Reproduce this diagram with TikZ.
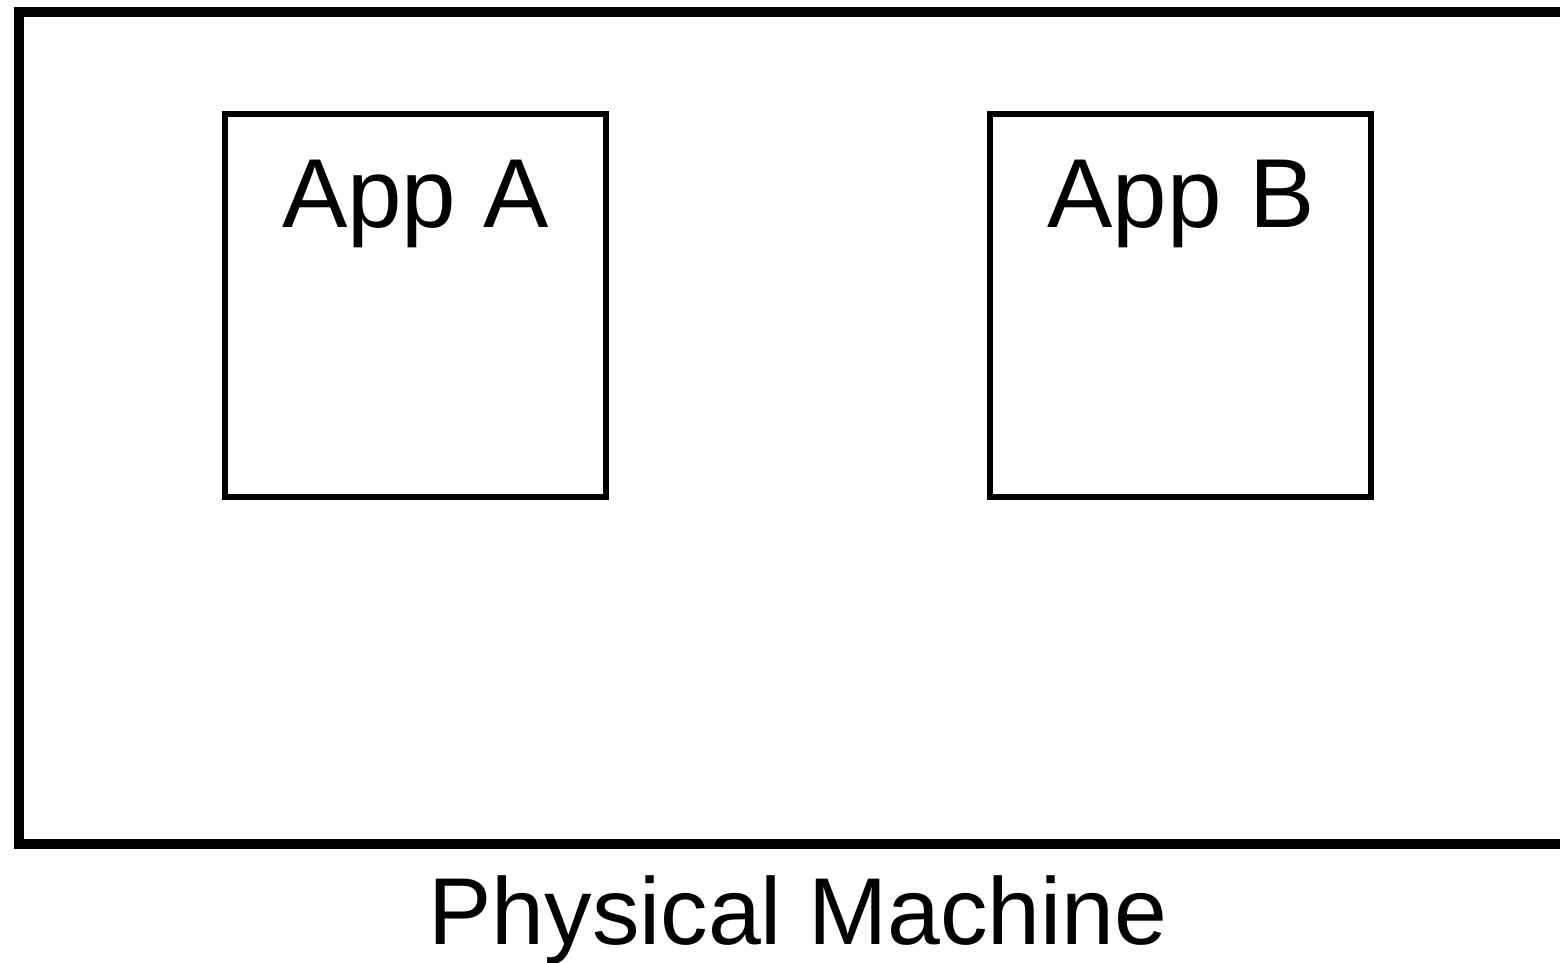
\documentclass[tikz,border=0pt]{standalone}
\usepackage{fontspec}
\setmainfont{Liberation Sans}
\begin{document}
\begin{tikzpicture}[x=1pt,y=-1pt,
  machine/.style={draw, line width=10pt, minimum width=1561pt, minimum height=832pt,
    inner sep=0pt, outer sep=0pt, anchor=north west},
  appbox/.style={draw, line width=5.5pt, minimum width=381pt, minimum height=383pt,
    inner sep=0pt, outer sep=0pt, anchor=north west},
  bigtext/.style={font=\fontsize{98}{118}\selectfont, inner sep=0pt, anchor=base},
  captiontext/.style={font=\fontsize{95}{114}\selectfont, inner sep=0pt, anchor=base}]
\useasboundingbox (0,0) rectangle (1560,962);
\clip (0,0) rectangle (1560,962);
% host frame, running off the right edge
\node[machine] (pm) at (19,12) {};
% the two applications
\node[appbox] (appa) at (225,114) {};
\node[appbox] (appb) at (990,114) {};
\node[bigtext] (ta) at (415.5,227) {App A};
\node[bigtext] (tb) at (1181,227) {App B};
% caption under the host
\node[captiontext] (tpm) at (798,944) {Physical Machine};
\end{tikzpicture}
\end{document}
